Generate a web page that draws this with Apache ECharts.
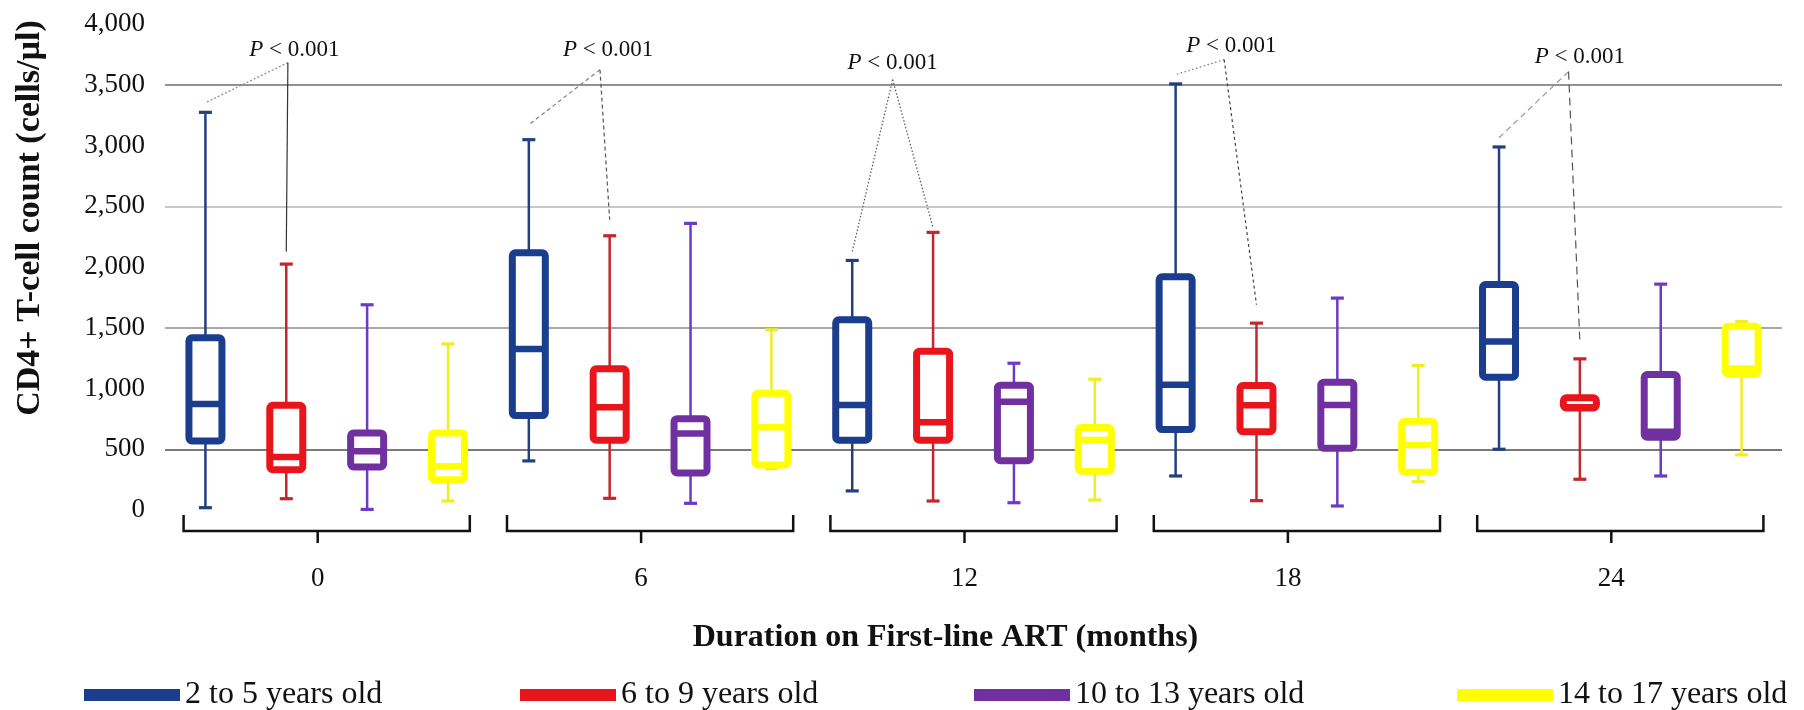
<!DOCTYPE html>
<html lang="en">
<head>
<meta charset="utf-8">
<title>CD4+ T-cell count by duration on first-line ART</title>
<script src="https://cdn.jsdelivr.net/npm/echarts@6/dist/echarts.min.js"></script>
<style>
    html, body { margin: 0; padding: 0; background: #fff; }
    #chart { width: 1804px; height: 710px; }
</style>
</head>
<body>
<div id="chart"></div>
<script>
// x groups: months on first-line ART, and the four age bands inside each group
var months = ['0', '6', '12', '18', '24'];
var ageGroups = ['2 to 5 years old', '6 to 9 years old', '10 to 13 years old', '14 to 17 years old'];

// [min, Q1, median, Q3, max] for months 0, 6, 12, 18, 24
var age2to5   = [[19, 568, 873, 1417, 3273], [404, 777, 1326, 2117, 3048], [157, 574, 865, 1565, 2054], [280, 662, 1030, 1919, 3507], [500, 1093, 1387, 1856, 2988]];
var age6to9   = [[93, 332, 437, 862, 2024], [96, 574, 846, 1162, 2257], [74, 574, 722, 1307, 2285], [77, 645, 862, 1024, 1538], [253, 840, 845, 923, 1244]];
var age10to13 = [[5, 354, 483, 634, 1689], [55, 305, 629, 752, 2359], [60, 406, 890, 1027, 1208], [33, 508, 865, 1052, 1744], [280, 599, 645, 1115, 1859]];
var age14to17 = [[74, 250, 360, 634, 1367], [340, 371, 681, 961, 1483], [82, 319, 577, 678, 1076], [233, 310, 535, 730, 1189], [454, 1120, 1165, 1513, 1551]];

var yTickStep = 500;

// P-value callouts (2-5 vs 6-9 years), values on the y scale
var pText = '{i|P} < 0.001';
var pApex = [3682, 3624, 3542, 3707, 3608];
var pLabelY = [3789, 3789, 3682, 3822, 3731];
var pEndBlue = [3352, 3171, 2125, 3583, 3064];
var pEndRed = [2125, 2389, 2323, 1689, 1384];

var FONT = 'Liberation Serif';
var boxColors = ['#1b3d8d', '#e8161c', '#7030a0', '#ffff00'];
var whiskerColors = ['#22407e', '#c2272d', '#6a3cc6', '#eeee22'];
var ageData = [age2to5, age6to9, age10to13, age14to17];

var categories = [];
months.forEach(function (m) {
    ageGroups.forEach(function (a) { categories.push(m + ' | ' + a); });
});

function boxRenderer(a) {
    return function (params, api) {
        var cat = api.value(0);
        var x = api.coord([cat, 0])[0];
        var yMin = api.coord([cat, api.value(1)])[1];
        var yQ1 = api.coord([cat, api.value(2)])[1];
        var yMed = api.coord([cat, api.value(3)])[1];
        var yQ3 = api.coord([cat, api.value(4)])[1];
        var yMax = api.coord([cat, api.value(5)])[1];
        var half = 16.5, cap = 6.5;
        var wStyle = { stroke: whiskerColors[a], lineWidth: 2.5 };
        var cStyle = { stroke: whiskerColors[a], lineWidth: 3.2 };
        return {
            type: 'group',
            children: [
                { type: 'line', shape: { x1: x, y1: yMax, x2: x, y2: yQ3 }, style: wStyle },
                { type: 'line', shape: { x1: x, y1: yQ1, x2: x, y2: yMin }, style: wStyle },
                { type: 'line', shape: { x1: x - cap, y1: yMax, x2: x + cap, y2: yMax }, style: cStyle },
                { type: 'line', shape: { x1: x - cap, y1: yMin, x2: x + cap, y2: yMin }, style: cStyle },
                { type: 'rect', shape: { x: x - half, y: yQ3, width: half * 2, height: yQ1 - yQ3, r: 3 },
                  style: { fill: '#fff', stroke: boxColors[a], lineWidth: 7, lineJoin: 'round' } },
                { type: 'line', shape: { x1: x - half, y1: yMed, x2: x + half, y2: yMed },
                  style: { stroke: boxColors[a], lineWidth: 6.5 } }
            ]
        };
    };
}

var series = ageGroups.map(function (name, a) {
    return {
        name: name,
        type: 'custom',
        clip: false,
        itemStyle: { color: boxColors[a] },
        encode: { x: 0, y: [1, 2, 3, 4, 5] },
        data: ageData[a].map(function (d, g) { return [g * 4 + a].concat(d); }),
        renderItem: boxRenderer(a)
    };
});

// brackets under each month group
var tickShift = -9;
series.push({
    name: 'brackets',
    type: 'custom',
    clip: false,
    silent: true,
    encode: { x: [0, 1] },
    data: months.map(function (m, g) { return [g * 4, g * 4 + 3]; }),
    renderItem: function (params, api) {
        var bw = api.size([1, 0])[0];
        var p1 = api.coord([api.value(0), 0]);
        var p2 = api.coord([api.value(1), 0]);
        var left = p1[0] - 0.27 * bw, right = p2[0] + 0.27 * bw;
        var top = p1[1] + 5, bot = p1[1] + 21;
        var mid = (left + right) / 2 + tickShift;
        var st = { stroke: '#111', lineWidth: 2.5, fill: null };
        return {
            type: 'group',
            children: [
                { type: 'polyline', shape: { points: [[left, top], [left, bot], [right, bot], [right, top]] }, style: st },
                { type: 'line', shape: { x1: mid, y1: bot, x2: mid, y2: bot + 12 }, style: st }
            ]
        };
    }
});

// P-value callouts
var apexShift = [0.02, -0.12, -0.5, -0.4, -0.14];
var labelShift = [0.1, -0.02, -0.5, -0.31, 0];
var legStyles = [
    [{ stroke: '#8c8c8c', lineDash: [2, 2] }, { stroke: '#333', lineDash: null }],
    [{ stroke: '#808080', lineDash: [4, 3] }, { stroke: '#555', lineDash: [4, 3] }],
    [{ stroke: '#555', lineDash: [1.5, 2] }, { stroke: '#555', lineDash: [1.5, 2] }],
    [{ stroke: '#777', lineDash: [1.5, 2.5] }, { stroke: '#444', lineDash: [3, 3] }],
    [{ stroke: '#999', lineDash: [6, 4] }, { stroke: '#555', lineDash: [8, 5] }]
];
series.push({
    name: 'pvalues',
    type: 'custom',
    clip: false,
    silent: true,
    encode: { x: 0, y: 1 },
    data: months.map(function (m, g) { return [g, pApex[g], pLabelY[g], pEndBlue[g], pEndRed[g]]; }),
    renderItem: function (params, api) {
        var g = api.value(0);
        var blueIdx = g * 4, redIdx = g * 4 + 1;
        var bw = api.size([1, 0])[0];
        var apex = api.coord([redIdx, api.value(1)]);
        apex[0] += apexShift[g] * bw;
        var lab = api.coord([redIdx, api.value(2)]);
        lab[0] += labelShift[g] * bw;
        var bEnd = api.coord([blueIdx, api.value(3)]);
        var rEnd = api.coord([redIdx, api.value(4)]);
        return {
            type: 'group',
            children: [
                { type: 'line', shape: { x1: apex[0], y1: apex[1], x2: bEnd[0], y2: bEnd[1] },
                  style: { stroke: legStyles[g][0].stroke, lineDash: legStyles[g][0].lineDash, lineWidth: 1.2 } },
                { type: 'line', shape: { x1: apex[0], y1: apex[1], x2: rEnd[0], y2: rEnd[1] },
                  style: { stroke: legStyles[g][1].stroke, lineDash: legStyles[g][1].lineDash, lineWidth: 1.2 } },
                { type: 'text', x: lab[0], y: lab[1],
                  style: { text: pText, fill: '#111', fontFamily: FONT, fontSize: 23,
                           align: 'center', verticalAlign: 'middle',
                           rich: { i: { fontStyle: 'italic', fontFamily: FONT, fontSize: 23, fill: '#111' } } } }
            ]
        };
    }
});

var legendLeft = [79, 515, 969, 1452];

var chart = echarts.init(document.getElementById('chart'));
chart.setOption({
    animation: false,
    backgroundColor: '#fff',
    grid: { left: 165, right: 22, top: 24, bottom: 200 },
    legend: ageGroups.map(function (name, a) {
        return {
            data: [name],
            left: legendLeft[a],
            top: 674,
            icon: 'rect',
            itemWidth: 96,
            itemHeight: 12,
            selectedMode: false,
            textStyle: { fontFamily: FONT, fontSize: 32, color: '#111' }
        };
    }),
    xAxis: [
        {
            type: 'category',
            data: categories,
            position: 'bottom',
            axisLine: { show: false },
            axisTick: { show: false },
            axisLabel: { show: false },
            splitLine: { show: false }
        },
        {
            type: 'category',
            data: months,
            position: 'bottom',
            axisLine: { show: false },
            axisTick: { show: false },
            axisLabel: { margin: 55, fontFamily: FONT, fontSize: 27, color: '#111', padding: [0, 18, 0, 0] },
            name: 'Duration on First-line ART (months)',
            nameLocation: 'middle',
            nameGap: 112,
            nameTextStyle: { fontFamily: FONT, fontSize: 32, fontWeight: 'bold', color: '#111', padding: [0, 56, 0, 0] }
        }
    ],
    yAxis: {
        type: 'value',
        min: 0,
        max: 4000,
        interval: yTickStep,
        axisLine: { show: false },
        axisTick: { show: false },
        axisLabel: {
            margin: 20,
            fontFamily: FONT,
            fontSize: 27,
            color: '#111',
            formatter: function (v) { return v.toLocaleString('en-US'); }
        },
        splitLine: {
            show: true,
            showMinLine: true,
            showMaxLine: true,
            lineStyle: {
                width: 1.5,
                color: ['rgba(0,0,0,0)', '#4c4c4c', 'rgba(0,0,0,0)', '#8a8a8a', 'rgba(0,0,0,0)',
                        '#b6b6b6', 'rgba(0,0,0,0)', '#6e6e6e', 'rgba(0,0,0,0)']
            }
        },
        name: 'CD4+ T-cell count (cells/\u00b5l)',
        nameLocation: 'middle',
        nameRotate: 90,
        nameGap: 118,
        nameTextStyle: { fontFamily: FONT, fontSize: 34, fontWeight: 'bold', color: '#111', padding: [0, 0, 0, 98] }
    },
    series: series
});
</script>
</body>
</html>
